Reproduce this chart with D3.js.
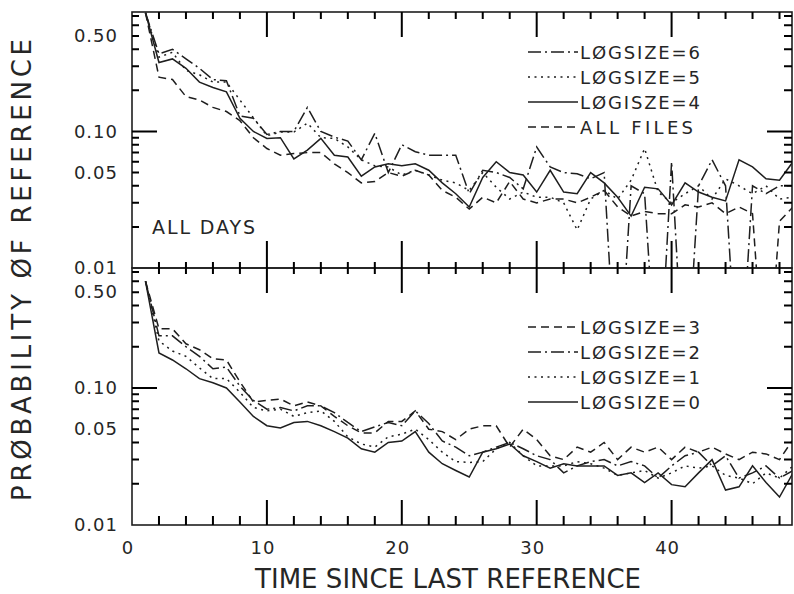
<!DOCTYPE html>
<html>
<head>
<meta charset="utf-8">
<script src="https://cdn.jsdelivr.net/npm/d3@7"></script>
<style>
  body { margin: 0; background: #fff; }
  svg { display: block; }
  text { font-family: "DejaVu Sans", sans-serif; fill: #262626; }
</style>
</head>
<body>
<svg width="794" height="594"></svg>
<script>
//-------------------
// DATA
//-------------------
var days = d3.range(1, 50);

// upper panel: all days
var topLogsize6 = [0.74, 0.37, 0.40, 0.34, 0.29, 0.24, 0.235, 0.13, 0.125, 0.095,
    0.10, 0.10, 0.15, 0.10, 0.091, 0.085, 0.062, 0.097, 0.05, 0.08,
    0.071, 0.067, 0.067, 0.067, 0.035, 0.052, 0.05, 0.046, 0.038, 0.077,
    0.055, 0.05, 0.049, 0.045, 0.05, 0, 0.04, 0.035, 0, 0.06,
    0, 0.04, 0.062, 0.04, 0, 0.04, 0.035, 0.04, 0.04];
var topLogsize5 = [0.74, 0.35, 0.38, 0.28, 0.26, 0.23, 0.23, 0.17, 0.126, 0.093,
    0.099, 0.099, 0.115, 0.09, 0.089, 0.077, 0.062, 0.056, 0.055, 0.048,
    0.052, 0.048, 0.044, 0.042, 0.037, 0.05, 0.039, 0.032, 0.036, 0.033,
    0.033, 0.03, 0.019, 0.032, 0.037, 0.032, 0.044, 0.075, 0.036, 0.03,
    0.035, 0.04, 0.032, 0.045, 0.04, 0.035, 0.04, 0.032, 0.033];
var topLogsize4 = [0.74, 0.32, 0.34, 0.29, 0.23, 0.21, 0.195, 0.125, 0.10, 0.089,
    0.09, 0.063, 0.073, 0.089, 0.067, 0.065, 0.047, 0.055, 0.058, 0.056,
    0.058, 0.052, 0.042, 0.035, 0.028, 0.046, 0.06, 0.05, 0.048, 0.036,
    0.052, 0.036, 0.035, 0.05, 0.042, 0.033, 0.024, 0.039, 0.038, 0.029,
    0.042, 0.036, 0.033, 0.031, 0.062, 0.055, 0.045, 0.044, 0.06];
var topAllFiles = [0.74, 0.25, 0.24, 0.18, 0.17, 0.15, 0.14, 0.12, 0.09, 0.075,
    0.067, 0.069, 0.07, 0.07, 0.058, 0.05, 0.042, 0.043, 0.05, 0.047,
    0.052, 0.048, 0.037, 0.033, 0.027, 0.033, 0.03, 0.043, 0.032, 0.03,
    0.032, 0.032, 0.03, 0.033, 0.037, 0.028, 0.024, 0.026, 0.025, 0.025,
    0.029, 0.028, 0.03, 0.025, 0.028, 0.025, 0, 0.022, 0.028];

// lower panel
var botLogsize3 = [0.6, 0.27, 0.27, 0.21, 0.19, 0.163, 0.16, 0.111, 0.079, 0.081,
    0.083, 0.074, 0.079, 0.074, 0.062, 0.053, 0.047, 0.047, 0.057, 0.057,
    0.068, 0.05, 0.048, 0.042, 0.05, 0.053, 0.053, 0.037, 0.05, 0.042,
    0.032, 0.03, 0.037, 0.034, 0.04, 0.03, 0.037, 0.034, 0.037, 0.03,
    0.037, 0.034, 0.037, 0.033, 0.03, 0.034, 0.033, 0.03, 0.042];
var botLogsize2 = [0.6, 0.24, 0.24, 0.2, 0.17, 0.138, 0.142, 0.103, 0.081, 0.07,
    0.072, 0.068, 0.074, 0.074, 0.066, 0.056, 0.048, 0.052, 0.056, 0.053,
    0.068, 0.055, 0.041, 0.037, 0.032, 0.034, 0.037, 0.04, 0.036, 0.032,
    0.03, 0.024, 0.027, 0.029, 0.03, 0.027, 0.029, 0.027, 0.022, 0.027,
    0.032, 0.034, 0.027, 0.032, 0.022, 0.024, 0.027, 0.022, 0.025];
var botLogsize1 = [0.6, 0.22, 0.186, 0.17, 0.14, 0.117, 0.117, 0.093, 0.072, 0.068,
    0.07, 0.062, 0.066, 0.068, 0.057, 0.044, 0.039, 0.037, 0.044, 0.046,
    0.05, 0.042, 0.034, 0.029, 0.0286, 0.029, 0.036, 0.04, 0.032, 0.027,
    0.027, 0.027, 0.029, 0.028, 0.026, 0.023, 0.024, 0.025, 0.022, 0.024,
    0.027, 0.026, 0.027, 0.023, 0.022, 0.02, 0.024, 0.022, 0.027];
var botLogsize0 = [0.6, 0.18, 0.16, 0.138, 0.117, 0.109, 0.1, 0.079, 0.062, 0.053,
    0.051, 0.056, 0.057, 0.053, 0.048, 0.043, 0.036, 0.034, 0.04, 0.041,
    0.048, 0.034, 0.028, 0.025, 0.0224, 0.034, 0.036, 0.039, 0.032, 0.029,
    0.026, 0.028, 0.027, 0.027, 0.027, 0.023, 0.024, 0.0204, 0.024, 0.0197,
    0.019, 0.024, 0.03, 0.018, 0.019, 0.027, 0.0204, 0.016, 0.024];

var topLabels = ["LØGSIZE=6", "LØGSIZE=5", "LØGISZE=4", "ALL FILES"];
var botLabels = ["LØGSIZE=3", "LØGSIZE=2", "LØGSIZE=1", "LØGSIZE=0"];

var xMajorTicks = [10, 20, 30, 40];
var xMinorTicks = [2, 4, 6, 8, 12, 14, 16, 18, 22, 24, 26, 28, 32, 34, 36, 38, 42, 44, 46, 48];
var xLabelTicks = [0, 10, 20, 30, 40];
var yLabelTicks = [0.5, 0.1, 0.05, 0.01];
var yMinorTicks = [0.02, 0.03, 0.04, 0.05, 0.06, 0.07, 0.08, 0.09, 0.2, 0.3, 0.4, 0.5, 0.6, 0.7];

//-------------------
// LAYOUT
//-------------------
var svg = d3.select("svg");
var left = 132, right = 792;
var ink = "#1e1e1e";

var x = d3.scaleLinear().domain([0, 49]).range([left, right + 1]);

var dashDot = "13,4,2,4",
    dotted = "2,4.5",
    dashed = "8,5";

var panels = [
    {
        id: "top", top: 12, bottom: 268, legendY: 52,
        series: [
            { label: topLabels[0], values: topLogsize6, dash: dashDot },
            { label: topLabels[1], values: topLogsize5, dash: dotted },
            { label: topLabels[2], values: topLogsize4, dash: null },
            { label: topLabels[3], values: topAllFiles, dash: dashed }
        ]
    },
    {
        id: "bot", top: 268, bottom: 525, legendY: 327,
        series: [
            { label: botLabels[0], values: botLogsize3, dash: dashed },
            { label: botLabels[1], values: botLogsize2, dash: dashDot },
            { label: botLabels[2], values: botLogsize1, dash: dotted },
            { label: botLabels[3], values: botLogsize0, dash: null }
        ]
    }
];

// collected tick segments, drawn after the frames
var tickSegs = [];

// vertical tick marks along a horizontal edge
function xTicks(values, y0, y1) {
    values.forEach(function (d) {
        tickSegs.push([x(d), y0, x(d), y1]);
    });
}

// horizontal tick marks along a vertical edge
function yTicks(scale, values, x0, x1) {
    values.forEach(function (d) {
        tickSegs.push([x0, scale(d), x1, scale(d)]);
    });
}

//-------------------
// DRAW PANELS
//-------------------
panels.forEach(function (p) {
    var y = d3.scaleLog().domain([0.01, 0.75]).range([p.bottom, p.top]);

    svg.append("clipPath").attr("id", "clip-" + p.id)
        .append("rect")
        .attr("x", left).attr("y", p.top)
        .attr("width", right - left).attr("height", p.bottom - p.top);

    var line = d3.line()
        .x(function (d, i) { return x(days[i]); })
        .y(function (d) { return y(Math.max(d, 0.001)); });

    svg.append("g")
        .attr("clip-path", "url(#clip-" + p.id + ")")
        .selectAll("path")
        .data(p.series)
        .enter()
        .append("path")
        .attr("d", function (s) { return line(s.values); })
        .attr("fill", "none")
        .attr("stroke", ink)
        .attr("stroke-width", 1.5)
        .attr("stroke-dasharray", function (s) { return s.dash; });

    // y ticks, both sides
    yTicks(y, yMinorTicks, left, left + 7);
    yTicks(y, yMinorTicks, right - 8, right);
    yTicks(y, [0.1], left, left + 25);
    yTicks(y, [0.1], right - 25, right);

    var yl = svg.append("g")
        .attr("transform", "translate(" + left + ",0)")
        .call(d3.axisLeft(y).tickValues(yLabelTicks).tickSize(0).tickPadding(14)
            .tickFormat(d3.format(".2f")));
    yl.select(".domain").remove();
    yl.selectAll("text")
        .attr("font-size", 18)
        .attr("letter-spacing", 1)
        .attr("fill", "#262626");

    // legend
    var leg = svg.append("g").selectAll("g")
        .data(p.series)
        .enter()
        .append("g")
        .attr("transform", function (s, i) { return "translate(0," + (p.legendY + i * 25) + ")"; });
    leg.append("line")
        .attr("x1", 528).attr("x2", 578)
        .attr("stroke", ink).attr("stroke-width", 1.5)
        .attr("stroke-dasharray", function (s) { return s.dash; });
    leg.append("text")
        .attr("x", 580).attr("y", 6.5)
        .attr("font-size", 18)
        .attr("textLength", function (s) { return s.label === "ALL FILES" ? 113 : 120; })
        .attr("lengthAdjust", "spacing")
        .text(function (s) { return s.label; });
});

//-------------------
// X TICKS
//-------------------
// top edge of upper panel
xTicks(xMinorTicks, 12, 19);
xTicks(xMajorTicks, 12, 37);
// shared boundary: crosses
xTicks(xMinorTicks, 262, 274);
xTicks(xMajorTicks, 241, 293);
// bottom edge
xTicks(xMinorTicks, 516, 525);
xTicks(xMajorTicks, 500, 525);

var xl = svg.append("g")
    .attr("transform", "translate(0,525)")
    .call(d3.axisBottom(x).tickValues(xLabelTicks).tickSize(0).tickPadding(16)
        .tickFormat(d3.format("d")));
xl.select(".domain").remove();
xl.selectAll("text")
    .attr("font-size", 18)
    .attr("letter-spacing", 1)
    .attr("dx", "-0.25em")
    .attr("fill", "#262626");

//-------------------
// FRAMES & TEXT
//-------------------
panels.forEach(function (p) {
    svg.append("rect")
        .attr("x", left).attr("y", p.top)
        .attr("width", right - left).attr("height", p.bottom - p.top)
        .attr("fill", "none")
        .attr("stroke", ink)
        .attr("stroke-width", 1.6);
});

svg.append("path")
    .attr("class", "ticks")
    .attr("d", tickSegs.map(function (s) {
        return "M" + s[0] + "," + s[1] + "L" + s[2] + "," + s[3];
    }).join(""))
    .attr("fill", "none")
    .attr("stroke", "#000")
    .attr("stroke-width", 2);

svg.append("text")
    .attr("x", 152).attr("y", 234)
    .attr("font-size", 19)
    .attr("textLength", 103)
    .attr("lengthAdjust", "spacing")
    .text("ALL DAYS");

svg.append("text")
    .attr("transform", "translate(31,270) rotate(-90)")
    .attr("text-anchor", "middle")
    .attr("font-size", 26)
    .attr("textLength", 462)
    .attr("lengthAdjust", "spacing")
    .text("PRØBABILITY ØF REFERENCE");

svg.append("text")
    .attr("x", 448).attr("y", 588)
    .attr("text-anchor", "middle")
    .attr("font-size", 26)
    .attr("textLength", 386)
    .attr("lengthAdjust", "spacing")
    .text("TIME SINCE LAST REFERENCE");
</script>
</body>
</html>
